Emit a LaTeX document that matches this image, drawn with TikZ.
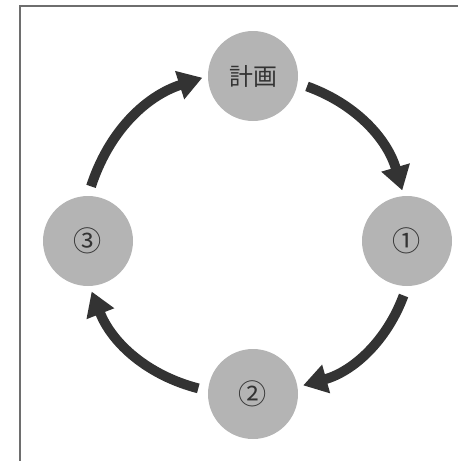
\documentclass[tikz,border=0pt]{standalone}
\usepackage{fontspec}
\setmainfont{Noto Sans CJK JP}
\usetikzlibrary{arrows.meta, positioning}

\definecolor{stepgray}{HTML}{B4B4B4}
\definecolor{arrowdark}{HTML}{333333}
\definecolor{framegray}{HTML}{6E6E6E}

\tikzset{
    phase/.style={circle, fill=stepgray, minimum size=90*0.025cm, inner sep=0pt,
        text=arrowdark, font=\fontsize{17pt}{17pt}\selectfont},
    numbered/.style={phase, font=\fontsize{20pt}{20pt}\selectfont},
    cycle arrow/.style={draw=arrowdark, line width=7pt,
        -{Triangle[width=20pt, length=17pt]}, shorten <=7pt, shorten >=4pt}
}

\begin{document}
\begin{tikzpicture}[x=0.025cm, y=-0.025cm]
    \useasboundingbox (0,0) rectangle (458,461);
    % Frame
    \draw[framegray, line width=1.2pt] (458,6) -- (20,6) -- (20,461);

    % Phases
    \node[phase]    (plan)  at (253,76)  {計画};
    \node[numbered] (one)   at (407,241) {①};
    \node[numbered] (two)   at (253,394) {②};
    \node[numbered] (three) at (88,241)  {③};

    % Cycle
    \draw[cycle arrow] (plan.-9) to[bend left=27] (one.94);
    \draw[cycle arrow] (one.-90) to[bend left=27] (two.9);
    \draw[cycle arrow] (two.176) to[bend left=27] (three.-88);
    \draw[cycle arrow] (three.90) to[bend left=27] (plan.180);
\end{tikzpicture}
\end{document}
